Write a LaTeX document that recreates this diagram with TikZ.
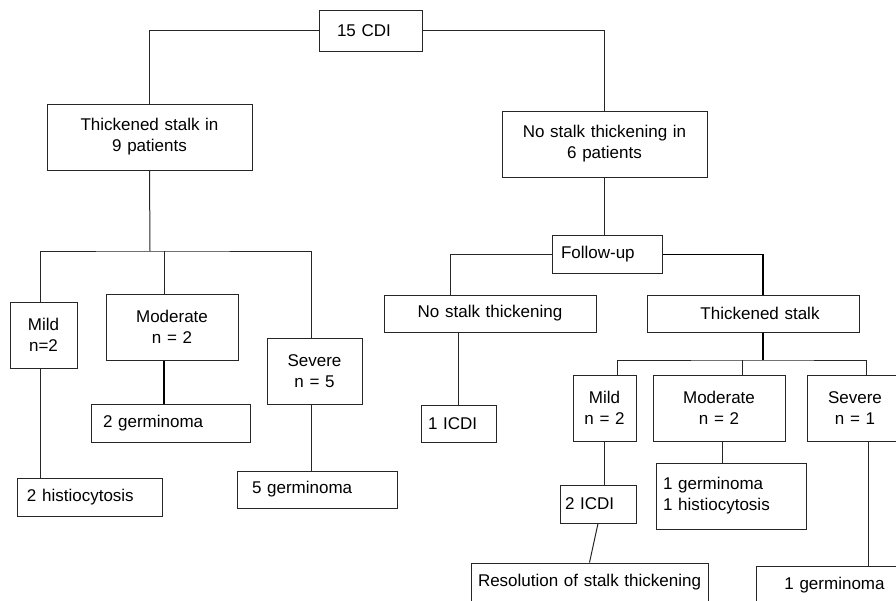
\documentclass[tikz,border=0pt]{standalone}
\usepackage{fontspec}
\setmainfont{Liberation Sans}
\tikzset{
  box/.style={draw=black!85, line width=1pt, font=\fontsize{17}{21}\selectfont,
    inner ysep=0pt, inner xsep=6pt, align=center},
  link/.style={draw=black!85, line width=1pt},
  heavy/.style={draw=black, line width=1.8pt}
}
\begin{document}
\begin{tikzpicture}[x=1pt,y=-1pt]
  \useasboundingbox (0,0) rectangle (896,600);
  \clip (0,0) rectangle (896,600);
  \draw
    (370.5,30.5) node[box, align=left, inner xsep=18pt, text width=67pt, minimum height=41pt] (cdi) {15 CDI}
    (149.5,137) node[box, text width=193pt, minimum height=66pt] (thick) {Thickened stalk in\\9 patients}
    (604.5,144) node[box, text width=193pt, minimum height=66pt] (nothick) {No stalk thickening in\\6 patients}
    (607,254.5) node[box, align=left, inner xsep=9pt, text width=92pt, minimum height=38pt] (follow) {Follow-up}
    (43.5,335) node[box, text width=55pt, minimum height=66pt] (lmild) {Mild\\n=2}
    (172,327) node[box, text width=120pt, minimum height=66pt] (lmod) {Moderate\\n = 2}
    (314.5,371) node[box, text width=83pt, minimum height=66pt] (lsev) {Severe\\n = 5}
    (170.5,423) node[box, align=left, inner xsep=12pt, text width=135pt, minimum height=38pt] (lgerm2) {2 germinoma}
    (89.5,497) node[box, align=left, inner xsep=10pt, text width=125pt, minimum height=38pt] (lhist) {2 histiocytosis}
    (317,489.5) node[box, align=left, inner xsep=15pt, text width=130pt, minimum height=37pt] (lgerm5) {5 germinoma}
    (490,313.5) node[box, text width=200pt, minimum height=37pt] (nst) {No stalk thickening}
    (753,313.5) node[box, text width=200pt, minimum height=37pt] (ts) {\hspace*{14pt}Thickened stalk}
    (458.5,423.5) node[box, align=left, inner xsep=7pt, text width=61pt, minimum height=37pt] (icdi1) {1 ICDI}
    (604.5,408) node[box, text width=51pt, minimum height=66pt] (rmild) {Mild\\n = 2}
    (719,408) node[box, text width=120pt, minimum height=66pt] (rmod) {Moderate\\n = 2}
    (855,408) node[box, text width=84pt, minimum height=66pt] (rsev) {Severe\\n = 1}
    (598,504) node[box, align=left, inner xsep=5pt, text width=66pt, minimum height=38pt] (icdi2) {2 ICDI}
    (731,496) node[box, align=left, inner xsep=7pt, text width=136pt, minimum height=66pt] (rgerm) {1 germinoma\\1 histiocytosis}
    (589.5,582) node[box, text width=225pt, minimum height=38pt] (resol) {Resolution of stalk thickening}
    (834.5,585) node[box, text width=145pt, minimum height=38pt] (germ1) {1 germinoma};
  \coordinate (lbar) at (150,251);
  \coordinate (rbar) at (763,360);
  \begin{scope}[link]
    \draw (cdi.west) -| (thick.north);
    \draw (cdi.east) -| (nothick.north);
    \draw (thick.south) -- (lbar);
    \draw ([xshift=-3.5pt]lmild.north) |- (lbar) -| ([xshift=-3.5pt]lsev.north);
    \draw ([xshift=-8pt]lmod.north) -- ([xshift=-8pt]lmod.north |- lbar);
    \draw ([xshift=-3.5pt]lmild.south) -- ([xshift=-3.5pt]lmild.south |- lhist.north);
    \draw ([xshift=-3.5pt]lsev.south) -- ([xshift=-3.5pt]lsev.south |- lgerm5.north);
    \draw (nothick.south) -- (nothick.south |- follow.north);
    \draw (follow.west) -| ([xshift=-40pt]nst.north);
    \draw ([xshift=-32pt]nst.south) -- ([xshift=-32pt]nst.south |- icdi1.north);
    \draw ([xshift=12.5pt]rmild.north) |- (rbar) -| ([xshift=11pt]rsev.north);
    \draw ([xshift=23pt]rmod.north) -- ([xshift=23pt]rmod.north |- rbar);
    \draw (rmild.south) -- (rmild.south |- icdi2.north);
    \draw (icdi2.south) -- (resol.north);
    \draw ([xshift=3pt]rmod.south) -- ([xshift=3pt]rmod.south |- rgerm.north);
    \draw ([xshift=13pt]rsev.south) -- ([xshift=13pt]rsev.south |- germ1.north);
  \end{scope}
  \begin{scope}[heavy]
    \draw ([xshift=-8pt]lmod.south) -- ([xshift=-8pt]lmod.south |- lgerm2.north);
    \draw (follow.east) -| ([xshift=10pt]ts.north);
    \draw ([xshift=10pt]ts.south) -- (rbar);
  \end{scope}
\end{tikzpicture}
\end{document}
